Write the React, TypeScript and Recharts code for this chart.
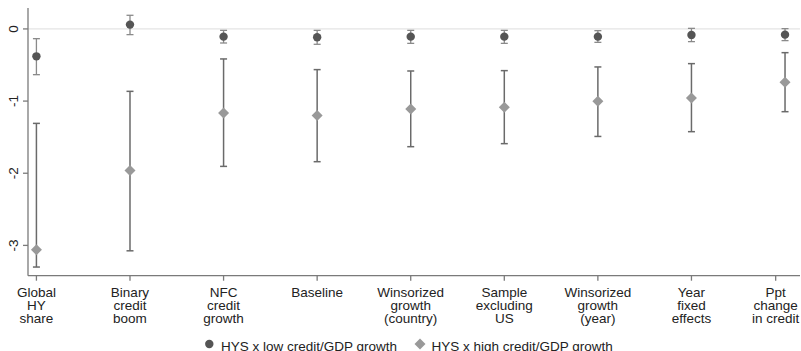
import React from 'react'
import {
  ScatterChart,
  Scatter,
  XAxis,
  YAxis,
  ErrorBar,
  ReferenceLine,
  Legend,
} from 'recharts'

const categories = [
  ['Global', 'HY', 'share'],
  ['Binary', 'credit', 'boom'],
  ['NFC', 'credit', 'growth'],
  ['Baseline'],
  ['Winsorized', 'growth', '(country)'],
  ['Sample', 'excluding', 'US'],
  ['Winsorized', 'growth', '(year)'],
  ['Year', 'fixed', 'effects'],
  ['Ppt', 'change', 'in credit'],
]

// HYS x low credit/GDP growth
const lowEst = [-0.38, 0.06, -0.107, -0.116, -0.107, -0.107, -0.107, -0.083, -0.079]
const lowLo = [-0.634, -0.079, -0.195, -0.213, -0.2, -0.2, -0.186, -0.176, -0.162]
const lowHi = [-0.135, 0.189, -0.02, -0.02, -0.02, -0.02, -0.024, 0.008, 0.004]

// HYS x high credit/GDP growth
const highEst = [-3.06, -1.961, -1.165, -1.2, -1.11, -1.087, -1.004, -0.957, -0.74]
const highLo = [-3.3, -3.075, -1.905, -1.84, -1.632, -1.59, -1.49, -1.424, -1.147]
const highHi = [-1.309, -0.865, -0.416, -0.564, -0.583, -0.578, -0.527, -0.481, -0.329]

const yTicks = [0, -1, -2, -3]
// last tick label is pulled in a bit so it fits
const xTicks = [0, 1, 2, 3, 4, 5, 6, 7, 7.9]

const lowData = categories.map((_, i) => ({
  x: i,
  y: lowEst[i],
  err: [lowEst[i] - lowLo[i], lowHi[i] - lowEst[i]],
}))
const highData = categories.map((_, i) => ({
  x: i,
  y: highEst[i],
  err: [highEst[i] - highLo[i], highHi[i] - highEst[i]],
}))

const FONT = '"Liberation Sans", Arial, sans-serif'
const DARK = '#555555'
const LIGHT = '#999999'

const Dot = (p: any) => <circle cx={p.cx} cy={p.cy} r={4.2} fill={DARK} />
const Diamond = (p: any) => (
  <polygon
    points={`${p.cx},${p.cy - 5.5} ${p.cx + 5.5},${p.cy} ${p.cx},${p.cy + 5.5} ${p.cx - 5.5},${p.cy}`}
    fill={LIGHT}
  />
)

const XTick = (p: any) => {
  const lines = categories[p.index] || []
  return (
    <text x={p.x} y={p.y} textAnchor="middle" fontSize={13.5} fill="#222" fontFamily={FONT}>
      {lines.map((l, i) => (
        <tspan key={i} x={p.x} y={p.y + 14.5 + i * 12.7}>
          {l}
        </tspan>
      ))}
    </text>
  )
}

const YTick = (p: any) => (
  <text
    x={13.5}
    y={p.y}
    transform={`rotate(-90, 13.5, ${p.y})`}
    textAnchor="middle"
    dominantBaseline="central"
    fontSize={13.5}
    fill="#222"
    fontFamily={FONT}
  >
    {String(p.payload.value)}
  </text>
)

const LegendBox = () => (
  <svg width={801} height={17} style={{ display: 'block' }}>
    <circle cx={209.3} cy={10} r={4.2} fill={DARK} />
    <text x={221} y={16.5} fontSize={13.5} fill="#222" fontFamily={FONT}>
      HYS x low credit/GDP growth
    </text>
    <polygon points="420,4.5 425.5,10 420,15.5 414.5,10" fill={LIGHT} />
    <text x={431.5} y={16.5} fontSize={13.5} fill="#222" fontFamily={FONT}>
      HYS x high credit/GDP growth
    </text>
  </svg>
)

export default function App() {
  return (
    <div style={{ position: 'fixed', left: 0, top: 0, background: '#fff' }}>
      <ScatterChart width={801} height={351} margin={{ top: 8, right: 1, bottom: 0, left: 0 }}>
        <ReferenceLine y={0} stroke="#e4e4e4" strokeWidth={1.2} />
        <XAxis
          dataKey="x"
          type="number"
          domain={[-0.09, 8.16]}
          ticks={xTicks}
          interval={0}
          allowDataOverflow
          tickSize={5}
          height={58.3}
          stroke="#7a7a7a"
          strokeWidth={1.3}
          tick={<XTick />}
        />
        <YAxis
          dataKey="y"
          type="number"
          domain={[-3.42, 0.29]}
          ticks={yTicks}
          interval={0}
          allowDataOverflow
          tickSize={5}
          width={28}
          stroke="#7a7a7a"
          strokeWidth={1.3}
          tick={<YTick />}
        />
        <Legend verticalAlign="bottom" wrapperStyle={{ left: 0, width: 801 }} content={<LegendBox />} />
        <Scatter name="low" data={lowData} shape={<Dot />} isAnimationActive={false}>
          <ErrorBar dataKey="err" direction="y" width={3.5} stroke="#8a8a8a" strokeWidth={1.3} />
        </Scatter>
        <Scatter name="high" data={highData} shape={<Diamond />} isAnimationActive={false}>
          <ErrorBar dataKey="err" direction="y" width={3.5} stroke="#6a6a6a" strokeWidth={1.5} />
        </Scatter>
      </ScatterChart>
    </div>
  )
}
